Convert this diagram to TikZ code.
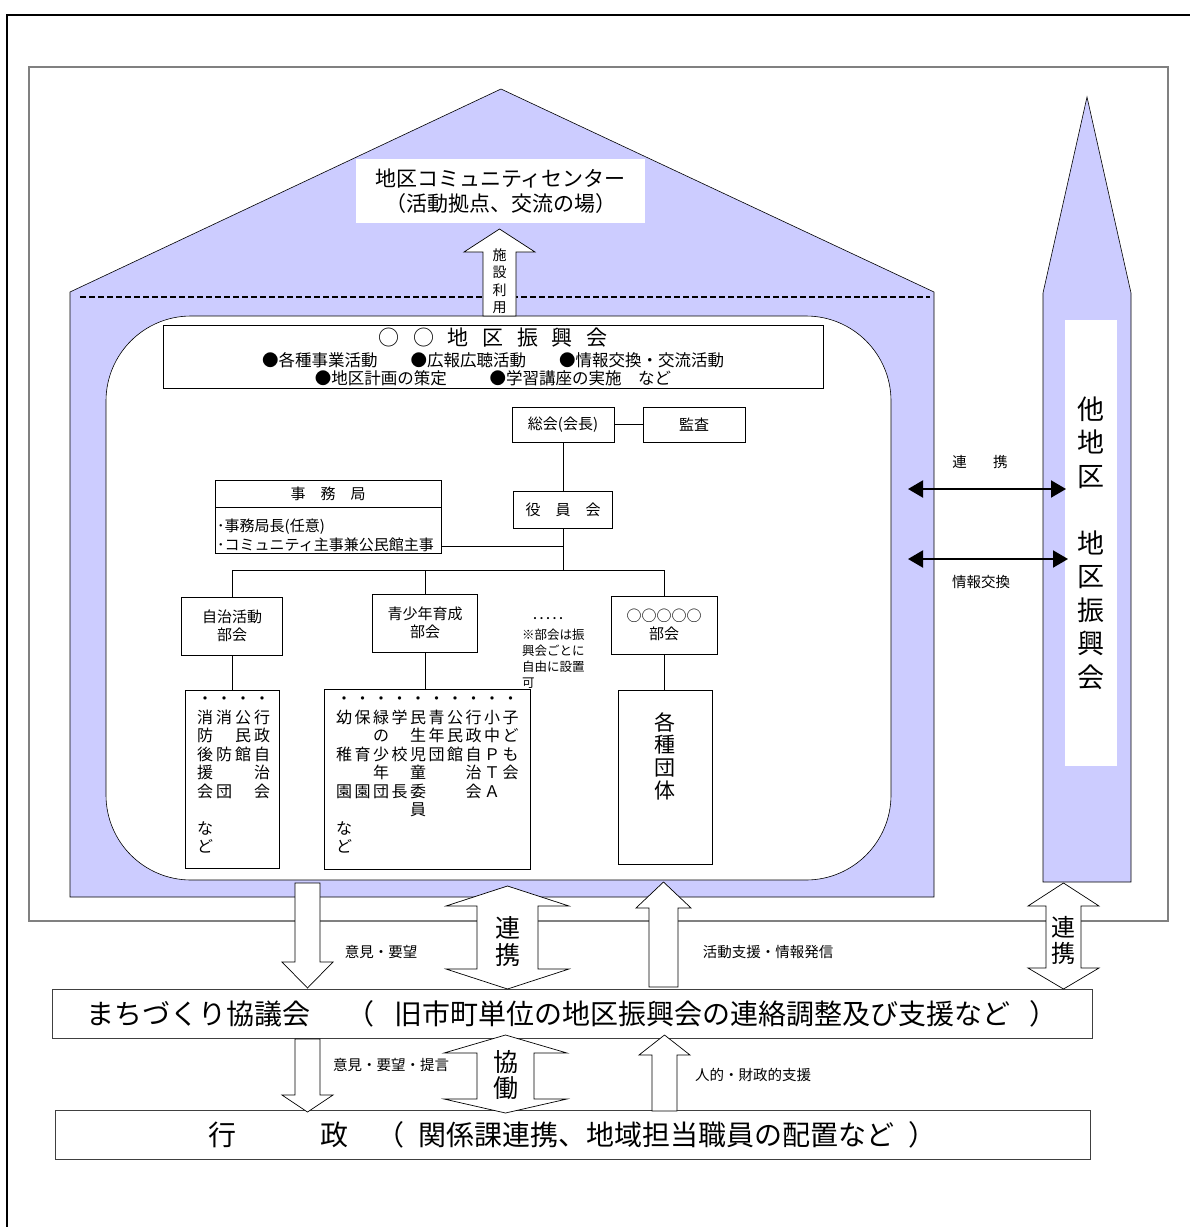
\documentclass[tikz,border=0pt]{standalone}
\usepackage{fontspec}
\setmainfont{Noto Sans CJK JP}
\usetikzlibrary{arrows.meta}
\definecolor{lavender}{RGB}{204,204,255}
\definecolor{framegray}{RGB}{128,128,128}
\newcommand{\jpsize}[2]{\fontsize{#1}{#2}\selectfont}
\tikzset{
  orgbox/.style={draw, fill=white, line width=0.7pt, inner sep=0pt},
  blockarrow/.style={draw, fill=white, line width=0.7pt, line join=miter},
  barbox/.style={draw=black!75, fill=white, line width=1pt, inner sep=0pt},
  tatebox/.style={anchor=north, align=center, inner sep=0pt, font=\jpsize{16}{18.5}},
  smalllabel/.style={font=\jpsize{14.5}{17}, inner sep=0pt},
  linkarrow/.style={line width=2pt, {Triangle[length=15pt,width=17pt]}-{Triangle[length=15pt,width=17pt]}},
}
\begin{document}
\begin{tikzpicture}
\useasboundingbox (0pt,0pt) rectangle (1190pt,-1227pt);

  \draw[line width=2pt] (7pt,-1227pt) -- (7pt,-15pt) -- (1190pt,-15pt);
  \draw[framegray, line width=1.2pt] (29pt,-67pt) rectangle (1168pt,-921pt);

  \draw[fill=lavender, line width=0.6pt] (70pt,-897pt) -- (70pt,-292pt) -- (501pt,-89pt)
        -- (934pt,-292pt) -- (934pt,-897pt) -- cycle;
  \draw[line width=1.7pt, dash pattern=on 6pt off 3pt] (80pt,-297pt) -- (930pt,-297pt);
  \draw[fill=lavender, line width=0.6pt] (1043pt,-882pt) -- (1043pt,-293pt) -- (1087pt,-97pt)
        -- (1131pt,-293pt) -- (1131pt,-882pt) -- cycle;
  \node[fill=white, minimum width=52pt, minimum height=446pt, inner sep=0pt] (tachiku) at (1091pt,-543pt) {};
  \node[font=\jpsize{27}{33.5}, align=center, inner sep=0pt] (tachikutext) at (tachiku.center)
        {他\\地\\区\\{}\\地\\区\\振\\興\\会};

  \draw[fill=white, line width=0.6pt, rounded corners=85pt] (106pt,-316pt) rectangle (891pt,-880pt);

  \node[fill=white, minimum width=289pt, minimum height=64pt, inner sep=0pt, align=center,
        font=\jpsize{21}{25}] (commcenter) at (500.5pt,-191pt) {地区コミュニティセンター\\（活動拠点、交流の場）};
  \draw[blockarrow] (483pt,-316pt) -- (483pt,-252pt) -- (464pt,-252pt) -- (499.5pt,-229pt)
        -- (535pt,-252pt) -- (516pt,-252pt) -- (516pt,-316pt) -- cycle;
  \node[font=\jpsize{14}{17.5}, align=center, inner sep=0pt] (shisetsu) at (499.5pt,-281pt) {施\\設\\利\\用};

  \node[orgbox, minimum width=660pt, minimum height=63pt, align=center, font=\jpsize{16.5}{18}] (shinkokai)
        at (493pt,-356.5pt)
        {{\jpsize{21}{22}○\hspace{.65em}○\hspace{.65em}地\hspace{.65em}区\hspace{.65em}振\hspace{.65em}興\hspace{.65em}会}\\[3pt]
         ●各種事業活動\hspace{2em}●広報広聴活動\hspace{2em}●情報交換・交流活動\\
         ●地区計画の策定\hspace{2.6em}●学習講座の実施\hspace{1em}など};

  \node[orgbox, minimum width=102pt, minimum height=35pt, font=\jpsize{15}{18}] (sokai) at (563pt,-424.5pt) {総会(会長)};
  \node[orgbox, minimum width=102pt, minimum height=35pt, font=\jpsize{15}{18}] (kansa) at (694pt,-424.5pt) {監査};
  \node[orgbox, minimum width=99pt, minimum height=37pt, font=\jpsize{15}{18}] (yakuin) at (563pt,-509.5pt)
        {役\hspace{1em}員\hspace{1em}会};
  \node[orgbox, minimum width=226pt, minimum height=27pt, font=\jpsize{15}{18}] (jimuhead) at (328pt,-493.5pt)
        {事\hspace{1em}務\hspace{1em}局};
  \node[orgbox, minimum width=226pt, minimum height=46pt] (jimubody) at (328pt,-530pt) {};
  \node[anchor=west, align=left, inner sep=0pt, font=\jpsize{15}{19}] (jimutext) at (217pt,-535.5pt)
        {･事務局長(任意)\\･コミュニティ主事兼公民館主事};

  \node[orgbox, minimum width=101pt, minimum height=58pt, align=center, font=\jpsize{15}{18}] (jichi)
        at (232pt,-626pt) {自治活動\\部会};
  \node[orgbox, minimum width=105pt, minimum height=58pt, align=center, font=\jpsize{15}{18}] (seishonen)
        at (425pt,-623pt) {青少年育成\\部会};
  \node[orgbox, minimum width=106pt, minimum height=58pt, align=center, font=\jpsize{15}{18}] (marubukai)
        at (664pt,-625pt) {○○○○○\\部会};
  \node[inner sep=0pt, font=\jpsize{13}{15}] (bukaidots) at (548pt,-620pt) {･････};
  \node[anchor=north west, align=left, inner sep=0pt, font=\jpsize{12.5}{16}] (bukainote) at (522pt,-629pt)
        {※部会は振\\興会ごとに\\自由に設置\\可};

  \coordinate (busL) at (232pt,-570pt);
  \coordinate (busR) at (664pt,-570pt);
  \coordinate (busmid) at (563pt,-570pt);
  \coordinate (jimulink) at (563pt,-546pt);
  \draw[line width=0.7pt] (sokai.east) -- (kansa.west);
  \draw[line width=0.7pt] (sokai.south) -- (yakuin.north);
  \draw[line width=0.7pt] (yakuin.south) -- (busmid);
  \draw[line width=0.7pt] (jimubody.east |- jimulink) -- (jimulink);
  \draw[line width=0.7pt] (busL) -- (busR);
  \draw[line width=0.7pt] (busL) -- (jichi.north);
  \draw[line width=0.7pt] (seishonen.north |- busL) -- (seishonen.north);
  \draw[line width=0.7pt] (busR) -- (marubukai.north);

  \node[orgbox, minimum width=94pt, minimum height=178pt] (dantaiA) at (232pt,-779pt) {};
  \node[orgbox, minimum width=206pt, minimum height=180pt] (dantaiB) at (427pt,-779pt) {};
  \node[orgbox, minimum width=94pt, minimum height=174pt] (dantaiC) at (665pt,-777pt) {};
  \draw[line width=0.7pt] (jichi.south) -- (dantaiA.north);
  \draw[line width=0.7pt] (seishonen.south) -- (seishonen.south |- dantaiB.north);
  \draw[line width=0.7pt] (marubukai.south) -- (marubukai.south |- dantaiC.north);

  \node[tatebox] (shoboko) at (205pt,-697pt) {・\\消\\防\\後\\援\\会\\{}\\な\\ど};
  \node[tatebox] (shobodan) at (224pt,-697pt) {・\\消\\{}\\防\\{}\\団};
  \node[tatebox] (kominkanA) at (243pt,-697pt) {・\\公\\民\\館};
  \node[tatebox] (jichikaiA) at (262pt,-697pt) {・\\行\\政\\自\\治\\会};

  \node[tatebox] (yochien) at (344pt,-697pt) {・\\幼\\{}\\稚\\{}\\園\\{}\\な\\ど};
  \node[tatebox] (hoikuen) at (362.5pt,-697pt) {・\\保\\{}\\育\\{}\\園};
  \node[tatebox] (midori) at (381pt,-697pt) {・\\緑\\の\\少\\年\\団};
  \node[tatebox] (kochokai) at (399.5pt,-697pt) {・\\学\\{}\\校\\{}\\長};
  \node[tatebox] (minsei) at (418pt,-697pt) {・\\民\\生\\児\\童\\委\\員};
  \node[tatebox] (seinendan) at (436.5pt,-697pt) {・\\青\\年\\団};
  \node[tatebox] (kominkanB) at (455pt,-697pt) {・\\公\\民\\館};
  \node[tatebox] (jichikaiB) at (473.5pt,-697pt) {・\\行\\政\\自\\治\\会};
  \node[tatebox] (pta) at (492pt,-697pt) {・\\小\\中\\Ｐ\\Ｔ\\Ａ};
  \node[tatebox] (kodomokai) at (510.5pt,-697pt) {・\\子\\ど\\も\\会};

  \node[align=center, inner sep=0pt, font=\jpsize{21}{22.7}] (kakushu) at (665pt,-756pt) {各\\種\\団\\体};

  \coordinate (linkL1) at (908pt,-489pt);
  \coordinate (linkR1) at (1066pt,-489pt);
  \coordinate (linkL2) at (908pt,-559pt);
  \coordinate (linkR2) at (1068pt,-559pt);
  \draw[linkarrow] (linkL1) -- (linkR1);
  \draw[linkarrow] (linkL2) -- (linkR2);
  \node[smalllabel] (renkeilabel) at (980pt,-462pt) {連\hspace{1.8em}携};
  \node[smalllabel] (johokokan) at (981pt,-582pt) {情報交換};

  \node[barbox, minimum width=1040pt, minimum height=49pt, font=\jpsize{28}{30}] (machi) at (572pt,-1013.5pt)
        {まちづくり協議会\hspace{1.3em}（\hspace{.7em}旧市町単位の地区振興会の連絡調整及び支援など\hspace{.7em}）};
  \node[barbox, minimum width=1035pt, minimum height=49pt, font=\jpsize{28}{30}] (gyosei) at (572.5pt,-1134.5pt)
        {行\hspace{3em}政\hspace{1em}（\hspace{.5em}関係課連携、地域担当職員の配置など\hspace{.5em}）};

  \draw[blockarrow] (295pt,-883pt) -- (320pt,-883pt) -- (320pt,-962pt) -- (333pt,-962pt)
        -- (307.5pt,-988pt) -- (282pt,-962pt) -- (295pt,-962pt) -- cycle;
  \draw[blockarrow] (507.5pt,-886pt) -- (569pt,-906pt) -- (538pt,-906pt) -- (538pt,-969pt) -- (569pt,-969pt)
        -- (507.5pt,-989pt) -- (446pt,-969pt) -- (477pt,-969pt) -- (477pt,-906pt) -- (446pt,-906pt) -- cycle;
  \draw[blockarrow] (663.5pt,-882pt) -- (691pt,-908pt) -- (678pt,-908pt) -- (678pt,-987pt)
        -- (649pt,-987pt) -- (649pt,-908pt) -- (636pt,-908pt) -- cycle;
  \draw[blockarrow] (1063.5pt,-883pt) -- (1099pt,-906pt) -- (1081pt,-906pt) -- (1081pt,-968pt) -- (1099pt,-968pt)
        -- (1063.5pt,-989pt) -- (1028pt,-968pt) -- (1046pt,-968pt) -- (1046pt,-906pt) -- (1028pt,-906pt) -- cycle;
  \node[align=center, inner sep=0pt, font=\jpsize{25}{27}] (renkeiA) at (507.5pt,-941.5pt) {連\\携};
  \node[align=center, inner sep=0pt, font=\jpsize{24}{26}] (renkeiB) at (1063.5pt,-940pt) {連\\携};
  \node[smalllabel] (ikenA) at (381pt,-952pt) {意見・要望};
  \node[smalllabel] (shien) at (768pt,-952pt) {活動支援・情報発信};

  \draw[blockarrow] (295pt,-1039pt) -- (320pt,-1039pt) -- (320pt,-1095pt) -- (333pt,-1095pt)
        -- (307.5pt,-1112pt) -- (282pt,-1095pt) -- (295pt,-1095pt) -- cycle;
  \draw[blockarrow] (505.5pt,-1035pt) -- (567pt,-1053pt) -- (534pt,-1053pt) -- (534pt,-1099pt) -- (567pt,-1099pt)
        -- (505.5pt,-1113pt) -- (444pt,-1099pt) -- (477pt,-1099pt) -- (477pt,-1053pt) -- (444pt,-1053pt) -- cycle;
  \draw[blockarrow] (664.5pt,-1035pt) -- (690pt,-1055pt) -- (677pt,-1055pt) -- (677pt,-1111pt)
        -- (652pt,-1111pt) -- (652pt,-1055pt) -- (639pt,-1055pt) -- cycle;
  \node[align=center, inner sep=0pt, font=\jpsize{25}{26}] (kyodo) at (505.5pt,-1075pt) {協\\働};
  \node[smalllabel] (ikenB) at (391pt,-1065pt) {意見・要望・提言};
  \node[smalllabel] (jinteki) at (753pt,-1075pt) {人的・財政的支援};

\end{tikzpicture}
\end{document}
